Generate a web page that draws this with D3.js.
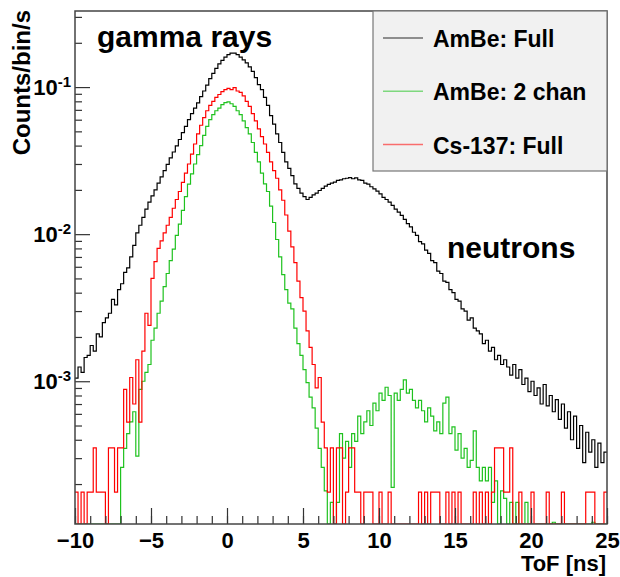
<!DOCTYPE html>
<html>
<head>
<meta charset="utf-8">
<script src="https://cdnjs.cloudflare.com/ajax/libs/d3/7.8.5/d3.min.js"></script>
<style>
  body { margin: 0; background: #fff; }
  text { font-family: "Liberation Sans", Arial, Helvetica, sans-serif; font-weight: bold; fill: #000; }
</style>
</head>
<body>
<script>

// ToF histograms, bins of 0.2 ns starting at -10 ns (counts/bin/s, 0 = empty bin)
var binStart = -10;
var binWidth = 0.2;

var amBeFull = [
    1.05e-3, 1.25e-3, 1.15e-3, 1.45e-3, 1.5e-3,
    1.75e-3, 1.6e-3, 2.1e-3, 2.0e-3, 2.5e-3,
    2.7e-3, 2.9e-3, 3.6e-3, 3.3e-3, 4.2e-3,
    4.6e-3, 5.5e-3, 5.9e-3, 7.0e-3, 8.4e-3,
    .0102, .0115, .0130, .0148, .0165,
    .0182, .0200, .0222, .0245, .0270,
    .0298, .0330, .0362, .0398, .0440,
    .049, .054, .060, .066, .072,
    .078, .086, .094, .103, .114,
    .124, .134, .144, .152, .160,
    .166, .170, .170, .166, .160,
    .153, .146, .137, .128, .116,
    .104, .096, .085, .075, .064,
    .056, .048, .042, .036, .031,
    .028, .025, .022, .0205, .019,
    .018, .0172, .0178, .0185, .019,
    .0198, .0205, .0212, .0218, .0222,
    .0226, .0232, .0234, .0238, .024,
    .0242, .0238, .0241, .0234, .0232,
    .0222, .0219, .021, .0203, .0196,
    .0188, .0178, .0172, .0165, .0157,
    .0148, .0141, .0134, .0126, .0118,
    .0112, .0103, .0098, .0089, .0086,
    .0078, .0074, .0066, .0064, .0056,
    .0054, .0048, .0047, .0042, .0040,
    .0036, .0035, .0031, .0030, .0026,
    .0027, .0023, .0022, .0021, .0018,
    .0019, .0016, .0017, .0014, .0015,
    .0013, .0014, .00125, .0011, .0013,
    .00105, .0012, .00095, .00105, .00085,
    .0010, .0008, .0009, .0007, .00095,
    .00068, .0008, .00062, .00075, .00055,
    .0007, .00048, .00062, .0004, .00058,
    .00035, .0005, .00028, .00045, .00033,
    .0004, .00026, .00038, .00028, .00033
];

var amBe2Chan = [
    0, 0, 0, 0, 0,
    0, 0, 0, 0, 0,
    0, 0, 0, 0, 0,
    2.6e-4, 3.5e-4, 4.4e-4, 5.3e-4, 6.2e-4,
    3.1e-4, 8.8e-4, 1.0e-3, 1.15e-3, 1.3e-3,
    1.9e-3, 2.3e-3, 2.9e-3, 3.5e-3, 4.4e-3,
    5.4e-3, 6.6e-3, 7.9e-3, 9.8e-3, .0117,
    .0145, .018, .0219, .0257, .030,
    .0347, .040, .047, .054, .060,
    .065, .069, .072, .076, .0785,
    .0794, .077, .074, .069, .065,
    .059, .053, .048, .042, .036,
    .031, .026, .022, .0195, .0155,
    .012, .0092, .007, .0053, .0042,
    .0034, .0031, .0023, .0018, .0015,
    .0012, 9.8e-4, 7.8e-4, 6.6e-4, 4.8e-4,
    3.5e-4, 2.6e-4, 1.8e-4, 0, 1.5e-4,
    0, 1.5e-4, 4.4e-4, 3.0e-4, 3.9e-4,
    2.6e-4, 4.4e-4, 3.9e-4, 5.8e-4, 4.4e-4,
    5.3e-4, 6.3e-4, 5.0e-4, 7.1e-4, 6.3e-4,
    8.3e-4, 7.4e-4, 9.1e-4, 8.0e-4, 1.9e-4,
    8.3e-4, 7.4e-4, 8.8e-4, 1.02e-3, 8.3e-4,
    8.8e-4, 7.4e-4, 6.6e-4, 7.4e-4, 6.3e-4,
    5.3e-4, 6.6e-4, 5.8e-4, 4.6e-4, 5.3e-4,
    4.4e-4, 7.1e-4, 7.8e-4, 4.4e-4, 4.9e-4,
    3.4e-4, 4.4e-4, 3.0e-4, 3.5e-4, 2.6e-4,
    2.9e-4, 4.6e-4, 2.6e-4, 2.1e-4, 2.6e-4,
    2.1e-4, 2.6e-4, 1.5e-4, 2.1e-4, 0,
    1.8e-4, 1.6e-4, 0, 1.5e-4, 0,
    1.5e-4, 0, 0, 1.5e-4, 0,
    0, 0, 0, 0, 0,
    0, 0, 1.1e-4, 0, 0,
    0, 0, 0, 0, 0,
    0, 0, 0, 0, 0,
    1.1e-4, 0, 0, 0, 0
];

var cs137Full = [
    1.76e-4, 0, 1.76e-4, 0, 1.76e-4,
    1.76e-4, 3.52e-4, 1.76e-4, 1.76e-4, 1.76e-4,
    0, 3.52e-4, 3.52e-4, 1.76e-4, 3.52e-4,
    3.52e-4, 8.8e-4, 5.28e-4, 1.06e-3, 7.0e-4,
    1.4e-3, 5.28e-4, 1.6e-3, 2.9e-3, 2.4e-3,
    5.0e-3, 6.5e-3, 8.0e-3, 9.0e-3, .0102,
    .0115, .013, .015, .0172, .0195,
    .0225, .026, .030, .035, .041,
    .048, .055, .062, .069, .075,
    .080, .085, .089, .093, .096,
    .098, .096, .099, .094, .092,
    .087, .080, .074, .066, .059,
    .052, .046, .041, .036, .031,
    .027, .024, .020, .017, .0135,
    .0105, .0082, .0064, .0048, .0037,
    .0030, .0022, .0017, .0013, 9.0e-4,
    1.06e-3, 5.28e-4, 3.52e-4, 1.76e-4, 3.52e-4,
    0, 3.52e-4, 3.52e-4, 0, 1.76e-4,
    3.52e-4, 3.52e-4, 1.76e-4, 1.76e-4, 0,
    1.76e-4, 1.76e-4, 1.76e-4, 0, 0,
    1.76e-4, 0, 0, 1.76e-4, 0,
    0, 0, 0, 0, 0,
    0, 0, 0, 1.76e-4, 0,
    1.76e-4, 0, 1.76e-4, 1.76e-4, 1.76e-4,
    0, 0, 1.76e-4, 0, 1.76e-4,
    0, 1.76e-4, 0, 0, 0,
    0, 1.76e-4, 0, 1.76e-4, 0,
    1.76e-4, 0, 1.76e-4, 3.52e-4, 3.52e-4,
    3.52e-4, 1.76e-4, 1.76e-4, 3.52e-4, 0,
    0, 1.76e-4, 0, 0, 0,
    1.76e-4, 0, 0, 0, 0,
    1.76e-4, 0, 0, 0, 0,
    1.76e-4, 0, 0, 0, 0,
    0, 0, 0, 1.76e-4, 1.76e-4,
    1.76e-4, 0, 0, 0, 1.76e-4
];

var seriesNames = ["AmBe: Full", "AmBe: 2 chan", "Cs-137: Full"];
var seriesColors = ["#000000", "#1fc21f", "#ff0000"];
var xTicks = [-10, -5, 0, 5, 10, 15, 20, 25];
var yDecades = [1e-3, 1e-2, 1e-1];

var width = 620;
var height = 577;
var frame = {left: 75, right: 607, top: 11, bottom: 524};

//SCALES
var xScale = d3.scaleLinear()
    .domain([-10, 25])
    .range([frame.left, frame.right]);

var yScale = d3.scaleLog()
    .domain([1.07e-4, 0.329])
    .range([frame.bottom, frame.top]);

var svg = d3.select("body").append("svg")
    .attr("width", width)
    .attr("height", height);

svg.append("clipPath").attr("id", "plotClip")
    .append("rect")
    .attr("x", frame.left).attr("y", frame.top)
    .attr("width", frame.right - frame.left)
    .attr("height", frame.bottom - frame.top);

//HISTOGRAM LINES
function yOf(v) { return v > 0 ? yScale(v) : frame.bottom; }

var step = d3.line()
    .x(function(d) { return xScale(d.x); })
    .y(function(d) { return yOf(d.v); })
    .curve(d3.curveStepAfter);

function toPoints(values) {
    var pts = values.map(function(v, i) { return {x: binStart + i * binWidth, v: v}; });
    pts.push({x: binStart + values.length * binWidth, v: values[values.length - 1]});
    return pts;
}

var plot = svg.append("g").attr("clip-path", "url(#plotClip)");

[amBeFull, amBe2Chan, cs137Full].forEach(function(series, i) {
    plot.append("path")
        .attr("d", step(toPoints(series)))
        .attr("fill", "none")
        .attr("stroke", seriesColors[i])
        .attr("stroke-width", 1.2);
});

//AXES (ticks drawn inward like ROOT)
var xMajor = d3.axisBottom(xScale).tickValues(xTicks).tickSize(-16).tickPadding(8);
var xMinor = d3.axisBottom(xScale).tickValues(d3.range(-10, 26, 1)).tickSize(-8).tickFormat("");

var xg = svg.append("g").attr("transform", "translate(0," + frame.bottom + ")");
xg.call(xMinor);
var xg2 = svg.append("g").attr("transform", "translate(0," + frame.bottom + ")");
xg2.call(xMajor);
xg2.selectAll("text").style("font-size", "22px");

var yMinorVals = [];
[1e-4, 1e-3, 1e-2, 1e-1].forEach(function(d) {
    for (var k = 2; k <= 9; k++) {
        var v = d * k;
        if (v > 1.07e-4 && v < 0.329) yMinorVals.push(v);
    }
});
var yMinor = d3.axisLeft(yScale).tickValues(yMinorVals).tickSize(-7).tickFormat("");
var yMajor = d3.axisLeft(yScale).tickValues(yDecades).tickSize(-15).tickFormat("");

var yg = svg.append("g").attr("transform", "translate(" + frame.left + ",0)");
yg.call(yMinor);
var yg2 = svg.append("g").attr("transform", "translate(" + frame.left + ",0)");
yg2.call(yMajor);

svg.selectAll(".domain").remove();
svg.selectAll(".tick line").attr("stroke", "#333").attr("stroke-width", 1.2);

yDecades.forEach(function(d) {
    var t = svg.append("text")
        .attr("x", 71)
        .attr("y", yScale(d) + 8)
        .attr("text-anchor", "end")
        .style("font-size", "22px");
    t.append("tspan").text("10");
    t.append("tspan")
        .attr("dy", -8)
        .style("font-size", "15px")
        .text("-" + Math.round(-Math.log10(d)));
});

//FRAME
svg.append("rect")
    .attr("x", frame.left).attr("y", frame.top)
    .attr("width", frame.right - frame.left)
    .attr("height", frame.bottom - frame.top)
    .attr("fill", "none")
    .attr("stroke", "#444")
    .attr("stroke-width", 1.5);

//AXIS TITLES
svg.append("text")
    .attr("x", 606).attr("y", 571)
    .attr("text-anchor", "end")
    .style("font-size", "22px")
    .text("ToF [ns]");

svg.append("text")
    .attr("transform", "translate(30,10) rotate(-90)")
    .attr("text-anchor", "end")
    .style("font-size", "24px")
    .text("Counts/bin/s");

//LABELS
svg.append("text")
    .attr("x", 97).attr("y", 47)
    .style("font-size", "30px")
    .text("gamma rays");

svg.append("text")
    .attr("x", 447).attr("y", 258)
    .style("font-size", "30px")
    .text("neutrons");

//LEGEND
var legend = svg.append("g");
legend.append("rect")
    .attr("x", 373).attr("y", frame.top)
    .attr("width", frame.right - 373).attr("height", 160)
    .attr("fill", "#f1f1f1")
    .attr("stroke", "#777")
    .attr("stroke-width", 1.2);

seriesNames.forEach(function(name, i) {
    var cy = 38 + i * 53.3;
    legend.append("line")
        .attr("x1", 383).attr("x2", 423)
        .attr("y1", cy).attr("y2", cy)
        .attr("stroke", seriesColors[i])
        .attr("stroke-opacity", 0.55)
        .attr("stroke-width", 1.5);
    legend.append("text")
        .attr("x", 433).attr("y", cy + 9)
        .style("font-size", "23px")
        .text(name);
});

</script>
</body>
</html>
